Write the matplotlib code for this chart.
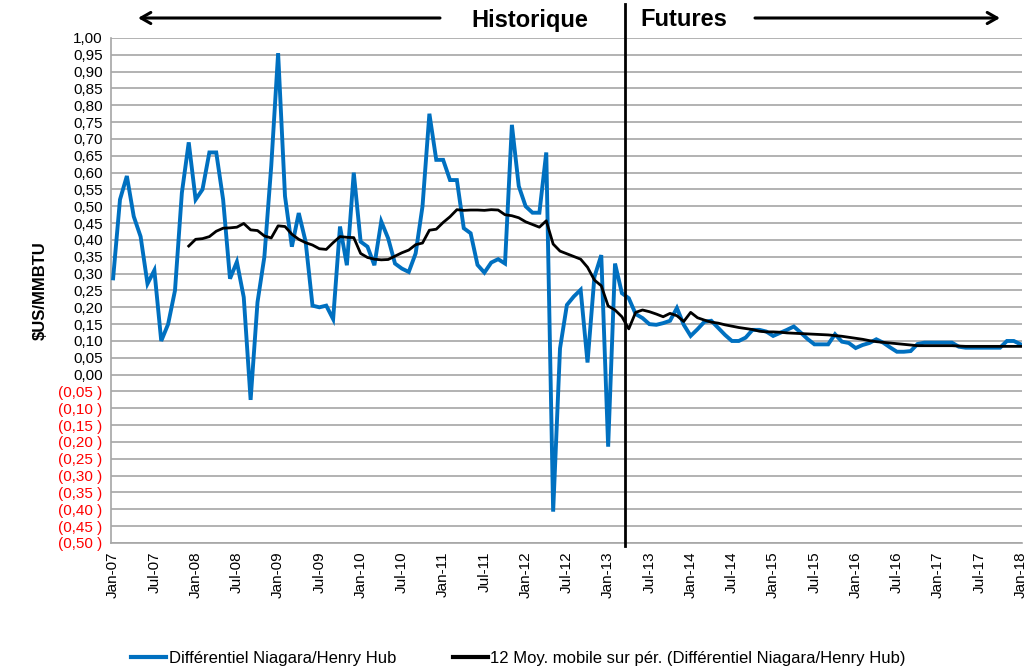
import matplotlib.pyplot as plt
import numpy as np
from matplotlib.lines import Line2D

plt.rcParams["font.family"] = ["Liberation Sans Narrow", "Liberation Sans", "DejaVu Sans"]

# Différentiel Niagara/Henry Hub, monthly Jan-07 .. Jan-18 ($US/MMBTU)
differentiel = [
    0.286, 0.52, 0.59, 0.47, 0.41, 0.27, 0.31, 0.10, 0.15, 0.25, 0.54, 0.69,      # 2007
    0.52, 0.55, 0.66, 0.66, 0.52, 0.285, 0.335, 0.23, -0.075, 0.215, 0.35, 0.62,  # 2008
    0.955, 0.53, 0.38, 0.48, 0.395, 0.205, 0.20, 0.205, 0.165, 0.44, 0.325, 0.60,  # 2009
    0.395, 0.38, 0.325, 0.455, 0.405, 0.33, 0.315, 0.305, 0.36, 0.50, 0.775, 0.638,  # 2010
    0.638, 0.578, 0.578, 0.435, 0.42, 0.326, 0.303, 0.333, 0.343, 0.33, 0.742, 0.56,  # 2011
    0.50, 0.481, 0.481, 0.66, -0.407, 0.078, 0.207, 0.232, 0.252, 0.036, 0.29, 0.355,  # 2012
    -0.214, 0.33, 0.242, 0.227, 0.18, 0.168, 0.15, 0.148, 0.153, 0.16, 0.198, 0.148,  # 2013
    0.115, 0.135, 0.157, 0.16, 0.139, 0.118, 0.10, 0.10, 0.11, 0.133, 0.133, 0.128,  # 2014
    0.115, 0.124, 0.133, 0.143, 0.125, 0.106, 0.09, 0.09, 0.09, 0.12, 0.098, 0.094,  # 2015
    0.079, 0.088, 0.094, 0.105, 0.095, 0.081, 0.068, 0.068, 0.07, 0.091, 0.095, 0.095,  # 2016
    0.095, 0.095, 0.095, 0.083, 0.08, 0.08, 0.08, 0.08, 0.08, 0.08, 0.10, 0.10,  # 2017
    0.09,  # Jan-18
]

# 12 Moy. mobile sur pér., Dec-07 .. Jan-18
moy_mobile = [
    0.382,
    0.402, 0.404, 0.41, 0.426, 0.435, 0.436, 0.438, 0.449, 0.43, 0.428, 0.412, 0.406,
    0.442, 0.44, 0.417, 0.402, 0.392, 0.385, 0.374, 0.372, 0.392, 0.41, 0.408, 0.407,
    0.36, 0.348, 0.343, 0.341, 0.342, 0.352, 0.362, 0.37, 0.386, 0.391, 0.429, 0.432,
    0.452, 0.469, 0.49, 0.488, 0.489, 0.489, 0.488, 0.49, 0.489, 0.475, 0.472, 0.466,
    0.454, 0.446, 0.438, 0.457, 0.388, 0.367, 0.359, 0.351, 0.343, 0.319, 0.281, 0.264,
    0.204, 0.192, 0.172, 0.136, 0.185, 0.192, 0.187, 0.18, 0.172, 0.182, 0.175, 0.158,
    0.185, 0.169, 0.162, 0.156, 0.153, 0.148, 0.144, 0.14, 0.137, 0.134, 0.129, 0.127,
    0.127, 0.126, 0.124, 0.123, 0.122, 0.121, 0.12, 0.119, 0.118, 0.116, 0.114, 0.111,
    0.108, 0.105, 0.101, 0.098, 0.096, 0.094, 0.092, 0.09, 0.088, 0.086, 0.086, 0.086,
    0.086, 0.086, 0.086, 0.085, 0.084, 0.084, 0.084, 0.084, 0.084, 0.084, 0.084, 0.084,
    0.084,
]

tick_labels = [
    "Jan-07", "Jul-07", "Jan-08", "Jul-08", "Jan-09", "Jul-09", "Jan-10", "Jul-10",
    "Jan-11", "Jul-11", "Jan-12", "Jul-12", "Jan-13", "Jul-13", "Jan-14", "Jul-14",
    "Jan-15", "Jul-15", "Jan-16", "Jul-16", "Jan-17", "Jul-17", "Jan-18",
]

futures_start = 74.5  # separation historique / futures (month index)

blue = "#0070C0"
grid_col = "#A6A6A6"

months = np.arange(len(differentiel))
ma_months = months[len(differentiel) - len(moy_mobile):]

fig = plt.figure(figsize=(10.33, 6.70), dpi=100)
ax = fig.add_axes([0.1075, 0.1896, 0.8819, 0.7537])

ax.plot(months, differentiel, color=blue, linewidth=2.8, solid_joinstyle="miter",
        label="Différentiel Niagara/Henry Hub", zorder=3)
ax.plot(ma_months, moy_mobile, color="black", linewidth=2.0,
        label="12 Moy. mobile sur pér. (Différentiel Niagara/Henry Hub)", zorder=4)

ax.set_xlim(-0.3, len(differentiel) - 0.8)
ax.set_ylim(-0.5, 1.0)

yticks = np.round(np.arange(-0.5, 1.0001, 0.05), 2)
ax.set_yticks(yticks)
ylabels = []
for v in yticks:
    s = f"{abs(v):.2f}".replace(".", ",")
    ylabels.append(f"({s} )" if v < 0 else s)
ax.set_yticklabels(ylabels, fontsize=11)
for lab, v in zip(ax.get_yticklabels(), yticks):
    if v < 0:
        lab.set_color("#FF0000")

ax.set_xticks(months[::6], tick_labels, rotation=90, fontsize=11)
ax.tick_params(axis="both", length=0, pad=6)

ax.grid(True, axis="y", color=grid_col, linewidth=1.2)
ax.grid(False, axis="x")
ax.set_axisbelow(True)
for side in ("top", "right"):
    ax.spines[side].set_visible(False)
for side in ("left", "bottom"):
    ax.spines[side].set_color(grid_col)
    ax.spines[side].set_linewidth(1.2)

ax.set_ylabel("$US/MMBTU", fontsize=12, fontweight="bold", labelpad=8)

# futures separator, running up into the header
ax.plot([futures_start, futures_start], [-0.51, 1.1], color="black", linewidth=2.0,
        clip_on=False, zorder=5)

# header: arrows + labels (figure pixels)
fig.text(530 / 1033, 1 - 20 / 670, "Historique", ha="center", va="center",
         fontsize=17, fontweight="bold")
fig.text(640 / 1033, 1 - 20 / 670, "Futures", ha="left", va="center",
         fontsize=17, fontweight="bold")
arrow_kw = dict(arrowstyle="->,head_length=0.7,head_width=0.4", color="black",
                linewidth=2.2, shrinkA=0, shrinkB=0)
ax.annotate("", xy=(138 / 1033, 1 - 18 / 670), xytext=(440 / 1033, 1 - 18 / 670),
            xycoords="figure fraction", textcoords="figure fraction", arrowprops=arrow_kw)
ax.annotate("", xy=(1000 / 1033, 1 - 18 / 670), xytext=(755 / 1033, 1 - 18 / 670),
            xycoords="figure fraction", textcoords="figure fraction", arrowprops=arrow_kw)

handles = [
    Line2D([], [], color=blue, linewidth=3.0),
    Line2D([], [], color="black", linewidth=3.0),
]
fig.legend(handles, ["Différentiel Niagara/Henry Hub",
                     "12 Moy. mobile sur pér. (Différentiel Niagara/Henry Hub)"],
           loc="center", bbox_to_anchor=(0.502, 1 - 658 / 670), ncol=2, frameon=False,
           fontsize=12, handlelength=2.1, handletextpad=0.15, columnspacing=3.4)

fig.savefig("out.png", dpi=100)
